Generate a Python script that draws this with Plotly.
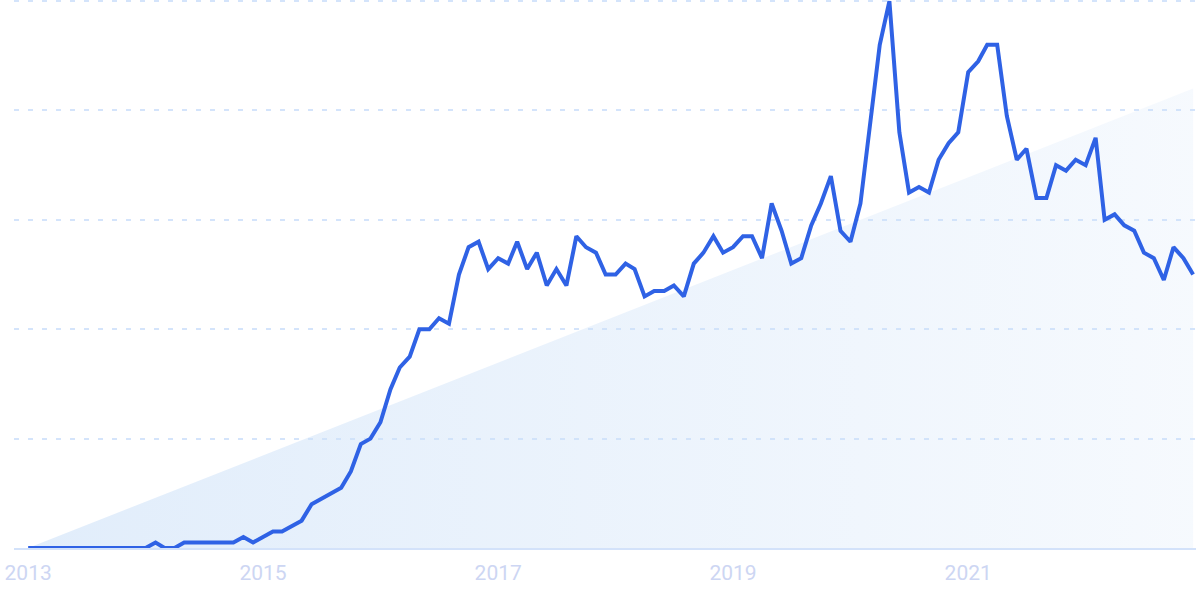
import plotly.graph_objects as go
import pandas as pd

# Monthly interest values, Jan 2013 .. Dec 2022
months = pd.date_range("2013-01-01", "2022-12-01", freq="MS")
values = [
    0, 0, 0, 0, 0, 0, 0, 0, 0, 0, 0, 0,          # 2013
    0, 1, 0, 0, 1, 1, 1, 1, 1, 1, 2, 1,          # 2014
    2, 3, 3, 4, 5, 8, 9, 10, 11, 14, 19, 20,     # 2015
    23, 29, 33, 35, 40, 40, 42, 41, 50, 55, 56, 51,  # 2016
    53, 52, 56, 51, 54, 48, 51, 48, 57, 55, 54, 50,  # 2017
    50, 52, 51, 46, 47, 47, 48, 46, 52, 54, 57, 54,  # 2018
    55, 57, 57, 53, 63, 58, 52, 53, 59, 63, 68, 58,  # 2019
    56, 63, 77, 92, 100, 76, 65, 66, 65, 71, 74, 76,  # 2020
    87, 89, 92, 92, 79, 71, 73, 64, 64, 70, 69, 71,  # 2021
    70, 75, 60, 61, 59, 58, 54, 53, 49, 55, 53, 50,  # 2022
]

# Trend wedge (start and end values)
trend_x = [months[0], months[-1], months[-1]]
trend_y = [0, 84, 0]

tick_vals = ["2013-01-01", "2015-01-01", "2017-01-01", "2019-01-01", "2021-01-01"]
tick_text = ["2013", "2015", "2017", "2019", "2021"]
grid_vals = [20, 40, 60, 80, 100]

fig = go.Figure()

fig.add_trace(go.Scatter(
    x=trend_x, y=trend_y,
    mode="lines",
    line=dict(width=0),
    fill="toself",
    fillgradient=dict(
        type="horizontal",
        colorscale=[[0, "rgba(205,225,248,0.6)"], [1, "rgba(205,225,248,0.18)"]],
    ),
    hoverinfo="skip",
    showlegend=False,
))

fig.add_trace(go.Scatter(
    x=months, y=values,
    mode="lines",
    line=dict(color="#2f62e5", width=4),
    showlegend=False,
))

fig.update_layout(
    width=1200, height=600,
    margin=dict(l=14, r=4, t=0, b=52),
    paper_bgcolor="white",
    plot_bgcolor="white",
    font=dict(family="Roboto", size=21, color="#cdd6f3"),
)

fig.update_xaxes(
    range=["2012-11-18", "2022-12-10"],
    tickvals=tick_vals,
    ticktext=tick_text,
    showgrid=False,
    zeroline=False,
    showline=True,
    linecolor="#d3e2fa",
    linewidth=1.5,
    ticks="",
    ticklabelstandoff=5,
    tickfont=dict(family="Roboto", size=21, color="#cdd6f3"),
)

fig.update_yaxes(
    range=[0, 100.2],
    tickvals=grid_vals,
    showticklabels=False,
    showgrid=True,
    gridcolor="#d4e4fb",
    gridwidth=1.5,
    griddash="5px,9px",
    zeroline=False,
    showline=False,
)

fig.write_html(
    "out.html",
    config={"displayModeBar": False},
    post_script="document.body.style.margin='0';",
)
